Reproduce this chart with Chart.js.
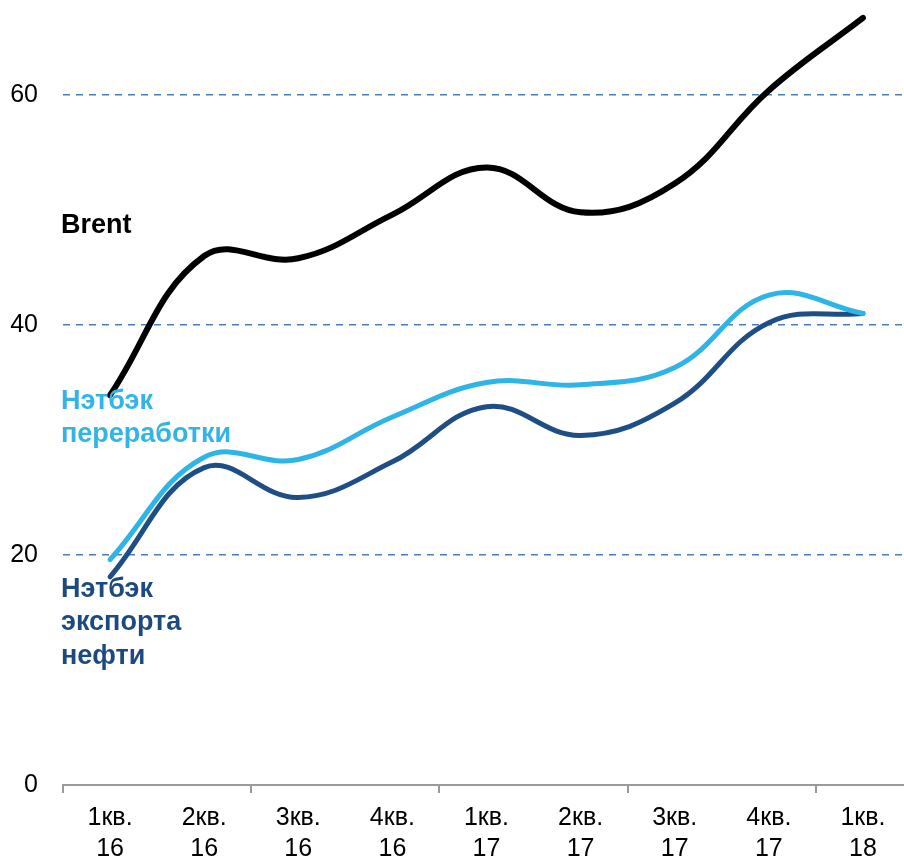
<!DOCTYPE html>
<html>
<head>
<meta charset="utf-8">
<script src="https://cdn.jsdelivr.net/npm/chart.js@4"></script>
<style>
  html, body { margin: 0; padding: 0; background: #fff; overflow: hidden; }
  #wrap { width: 910px; height: 859px; }
</style>
</head>
<body>
<div id="wrap"><canvas id="myChart" width="910" height="859"></canvas></div>
<script>
// quarters on the x axis
const quarters = [
  ['1кв.', '16'], ['2кв.', '16'], ['3кв.', '16'], ['4кв.', '16'],
  ['1кв.', '17'], ['2кв.', '17'], ['3кв.', '17'], ['4кв.', '17'],
  ['1кв.', '18']
];
const brent = [33.9, 46.0, 45.8, 49.6, 53.7, 49.8, 52.3, 60.4, 66.7];
const netbackRefining = [19.6, 28.5, 28.3, 32.0, 35.0, 34.8, 36.3, 42.6, 41.0];
const netbackExport = [18.1, 27.6, 25.0, 28.1, 32.9, 30.4, 33.2, 40.2, 41.0];
const yTicks = [0, 20, 40, 60];

const FONT = 'Arial, "Liberation Sans", sans-serif';

// series names written next to the lines (value = baseline of first line)
const seriesLabels = [
  { lines: ['Brent'], color: '#000000', value: 48 },
  { lines: ['Нэтбэк', 'переработки'], color: '#33b4e6', value: 32.7 },
  { lines: ['Нэтбэк', 'экспорта', 'нефти'], color: '#1c4a80', value: 16.35 }
];

const labelPlugin = {
  id: 'seriesLabels',
  afterDatasetsDraw(chart) {
    const ctx = chart.ctx;
    const y = chart.scales.y;
    ctx.save();
    ctx.font = 'bold 27px ' + FONT;
    ctx.textAlign = 'left';
    ctx.textBaseline = 'alphabetic';
    seriesLabels.forEach(l => {
      const y0 = y.getPixelForValue(l.value);
      ctx.fillStyle = l.color;
      l.lines.forEach((t, i) => ctx.fillText(t, chart.chartArea.left - 2, y0 + i * 33.5));
    });
    ctx.restore();
  }
};

const myChartRef = document.getElementById('myChart').getContext('2d');
new Chart(myChartRef, {
  type: 'line',
  data: {
    labels: quarters,
    datasets: [
      { label: 'Brent', data: brent, borderColor: '#000000', borderWidth: 6 },
      { label: 'Нэтбэк переработки', data: netbackRefining, borderColor: '#2fb4e8', borderWidth: 5 },
      { label: 'Нэтбэк экспорта нефти', data: netbackExport, borderColor: '#1f4e85', borderWidth: 5 }
    ]
  },
  options: {
    responsive: false,
    animation: false,
    layout: { padding: { top: 3, right: 0, bottom: 0, left: 0 } },
    elements: {
      point: { radius: 0, hoverRadius: 0 },
      line: { tension: 0.4, borderCapStyle: 'round', borderJoinStyle: 'round', fill: false }
    },
    plugins: { legend: { display: false }, tooltip: { enabled: false } },
    scales: {
      x: {
        offset: true,
        grid: {
          offset: true,
          drawOnChartArea: false,
          drawTicks: true,
          tickLength: 8,
          lineWidth: 2,
          tickColor: c => (c.index % 2 === 0 ? '#9a9a9a' : 'rgba(0,0,0,0)')
        },
        border: { display: true, color: '#9a9a9a', width: 2 },
        ticks: {
          color: '#000',
          padding: 9,
          maxRotation: 0,
          autoSkip: false,
          font: { family: FONT, size: 25, lineHeight: 1.25 }
        },
        afterFit: s => { s.height = 74; s.paddingLeft = 0; s.paddingRight = 0; }
      },
      y: {
        min: 0,
        max: 68,
        afterBuildTicks: s => { s.ticks = yTicks.map(v => ({ value: v })); },
        grid: {
          drawTicks: false,
          color: c => (c.tick && c.tick.value === 0 ? 'rgba(0,0,0,0)' : '#4a7cc0'),
          lineWidth: 1.6
        },
        border: { display: false, dash: [7, 6] },
        ticks: {
          color: '#000',
          padding: 25,
          font: { family: FONT, size: 25 }
        },
        afterFit: s => { s.width = 63; s.paddingTop = 0; s.paddingBottom = 0; }
      }
    }
  },
  plugins: [labelPlugin]
});
</script>
</body>
</html>
